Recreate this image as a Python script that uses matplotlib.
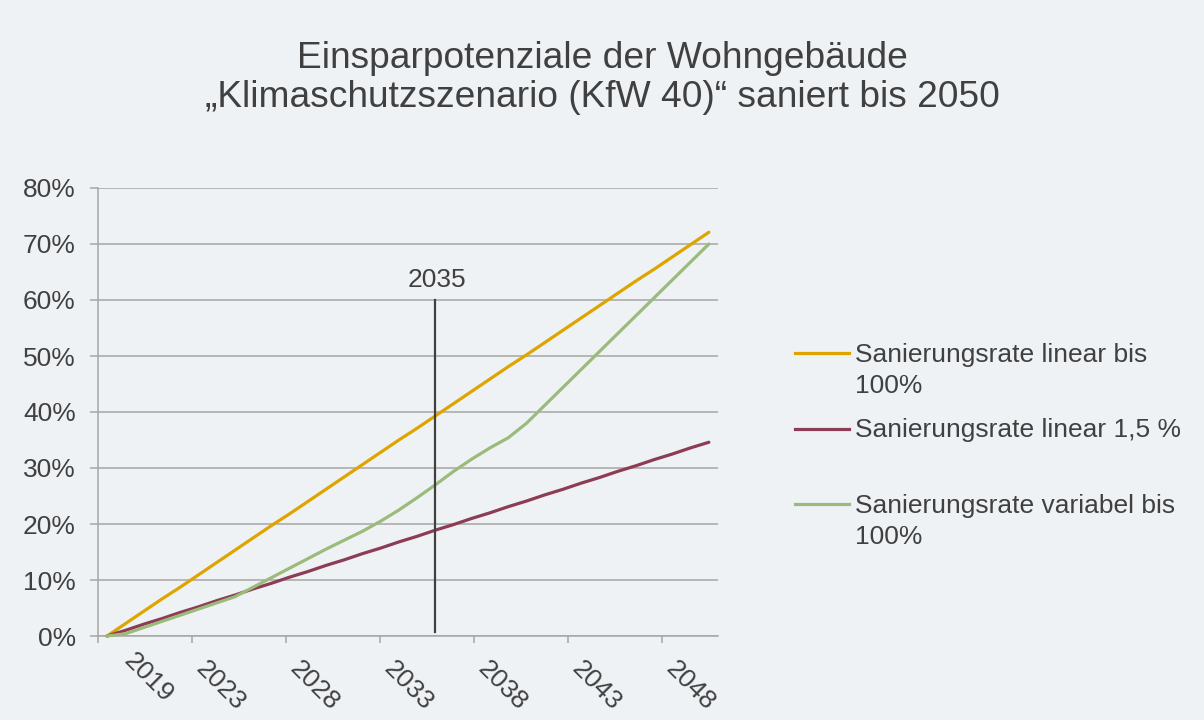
import matplotlib
matplotlib.use("Agg")
import matplotlib.pyplot as plt
from matplotlib.lines import Line2D
from matplotlib.transforms import ScaledTranslation, blended_transform_factory
from matplotlib.ticker import FuncFormatter

# ---------------- data ----------------
years = list(range(2017, 2051))
linear_100 = [0.0, 2.2, 4.4, 6.6, 8.7, 10.9, 13.1, 15.3, 17.5, 19.7, 21.8, 24.0,
              26.2, 28.4, 30.6, 32.8, 35.0, 37.1, 39.3, 41.5, 43.7, 45.9, 48.1,
              50.2, 52.4, 54.6, 56.8, 59.0, 61.2, 63.4, 65.5, 67.7, 69.9, 72.1]
linear_15 = [0.0, 1.0, 2.1, 3.1, 4.2, 5.2, 6.3, 7.3, 8.4, 9.4, 10.5, 11.5,
             12.6, 13.6, 14.7, 15.7, 16.8, 17.8, 18.9, 19.9, 21.0, 22.0, 23.1,
             24.1, 25.2, 26.2, 27.3, 28.3, 29.4, 30.4, 31.5, 32.5, 33.6, 34.6]
variabel_100 = [0.0, 0.4, 1.5, 2.6, 3.7, 4.8, 5.9, 7.0, 8.7, 10.4, 12.1, 13.8,
                15.5, 17.1, 18.7, 20.5, 22.5, 24.7, 27.0, 29.4, 31.6, 33.6, 35.4,
                38.0, 41.2, 44.4, 47.6, 50.8, 54.0, 57.2, 60.4, 63.6, 66.8, 70.0]
series_names = ["Sanierungsrate linear bis\n100%",
                "Sanierungsrate linear 1,5 %",
                "Sanierungsrate variabel bis\n100%"]
x_tick_labels = ["2019", "2023", "2028", "2033", "2038", "2043", "2048"]
y_ticks = [0, 10, 20, 30, 40, 50, 60, 70, 80]
marker_year = 2035
marker_range = [0.7, 60]
marker_label = "2035"
title_lines = ["Einsparpotenziale der Wohngebäude",
               "\u201eKlimaschutzszenario (KfW 40)\u201c saniert bis 2050"]

# ---------------- style ----------------
BG = "#EFF2F5"
TXT = "#404040"
GRID = "#A6A6A6"
colors = ["#DEA500", "#8C3C55", "#9BBB7B"]
FONT = ["Liberation Sans", "DejaVu Sans"]
plt.rcParams["font.family"] = FONT
FS = 19

W, H = 1204, 720
fig = plt.figure(figsize=(W / 100, H / 100), dpi=100)
fig.patch.set_facecolor(BG)

def fx(px):
    return px / W

def fy(py):
    return 1 - py / H

ax = fig.add_axes([fx(98), fy(636), fx(718) - fx(98), fy(188) - fy(636)])
ax.set_facecolor(BG)

series = [linear_100, linear_15, variabel_100]
for vals, c in zip(series, colors):
    ax.plot(years, vals, color=c, lw=2.3, solid_capstyle="round",
            solid_joinstyle="round", zorder=3, clip_on=False)

ax.plot([marker_year, marker_year], marker_range, color="#404040", lw=1.6, zorder=4)
ax.annotate(marker_label, xy=(marker_year, marker_range[1]), xytext=(1.5, 9.5),
            textcoords="offset points", ha="center", va="baseline",
            fontsize=FS, color=TXT)

xmin, xmax = years[0] - 0.5, years[-1] + 0.5
ax.set_xlim(xmin, xmax)
ax.set_ylim(0, 80)

# x ticks (Excel-like spacing) and rotated labels
tick_step = (xmax - xmin) * 94 / 620
tick_pos = [xmin + i * tick_step for i in range(len(x_tick_labels))]
ax.set_xticks(tick_pos)
ax.set_xticklabels([])
ax.tick_params(axis="x", length=5, width=1.1, color=GRID)
trans_x = blended_transform_factory(ax.transData, ax.transAxes)
for i, (p, lab) in enumerate(zip(tick_pos, x_tick_labels)):
    dx, dy = (38, 13) if i == 0 else (16, 21)
    t = trans_x + ScaledTranslation(dx / 100, -dy / 100, fig.dpi_scale_trans)
    ax.text(p, 0, lab, rotation=-45, rotation_mode="anchor", ha="left",
            va="top", transform=t, fontsize=FS, color=TXT, clip_on=False)

ax.set_yticks(y_ticks)
ax.yaxis.set_major_formatter(FuncFormatter(lambda v, _: f"{v:.0f}%"))
ax.tick_params(axis="y", length=5.8, width=1.1, color=GRID, pad=10.3,
               labelsize=FS, labelcolor=TXT)

ax.yaxis.grid(True, color=GRID, lw=1.1)
ax.set_axisbelow(True)
for s in ["top", "right"]:
    ax.spines[s].set_visible(False)
for s in ["left", "bottom"]:
    ax.spines[s].set_color(GRID)
    ax.spines[s].set_linewidth(1.1)

# title
for line, base in zip(title_lines, [68, 107]):
    fig.text(0.5, fy(base), line, ha="center", va="baseline", fontsize=26.7,
             color=TXT)

# legend (manual, Excel style: handle aligned with first text line)
for name, c, base in zip(series_names, colors, [362, 437, 512.5]):
    ly = fy(base - 8.5)
    fig.add_artist(Line2D([fx(795), fx(849)], [ly, ly], transform=fig.transFigure,
                          color=c, lw=2.3))
    for k, part in enumerate(name.split("\n")):
        fig.text(fx(855), fy(base + 31 * k), part, ha="left", va="baseline",
                 fontsize=FS, color=TXT)

fig.savefig("out.png", dpi=100, facecolor=BG)
